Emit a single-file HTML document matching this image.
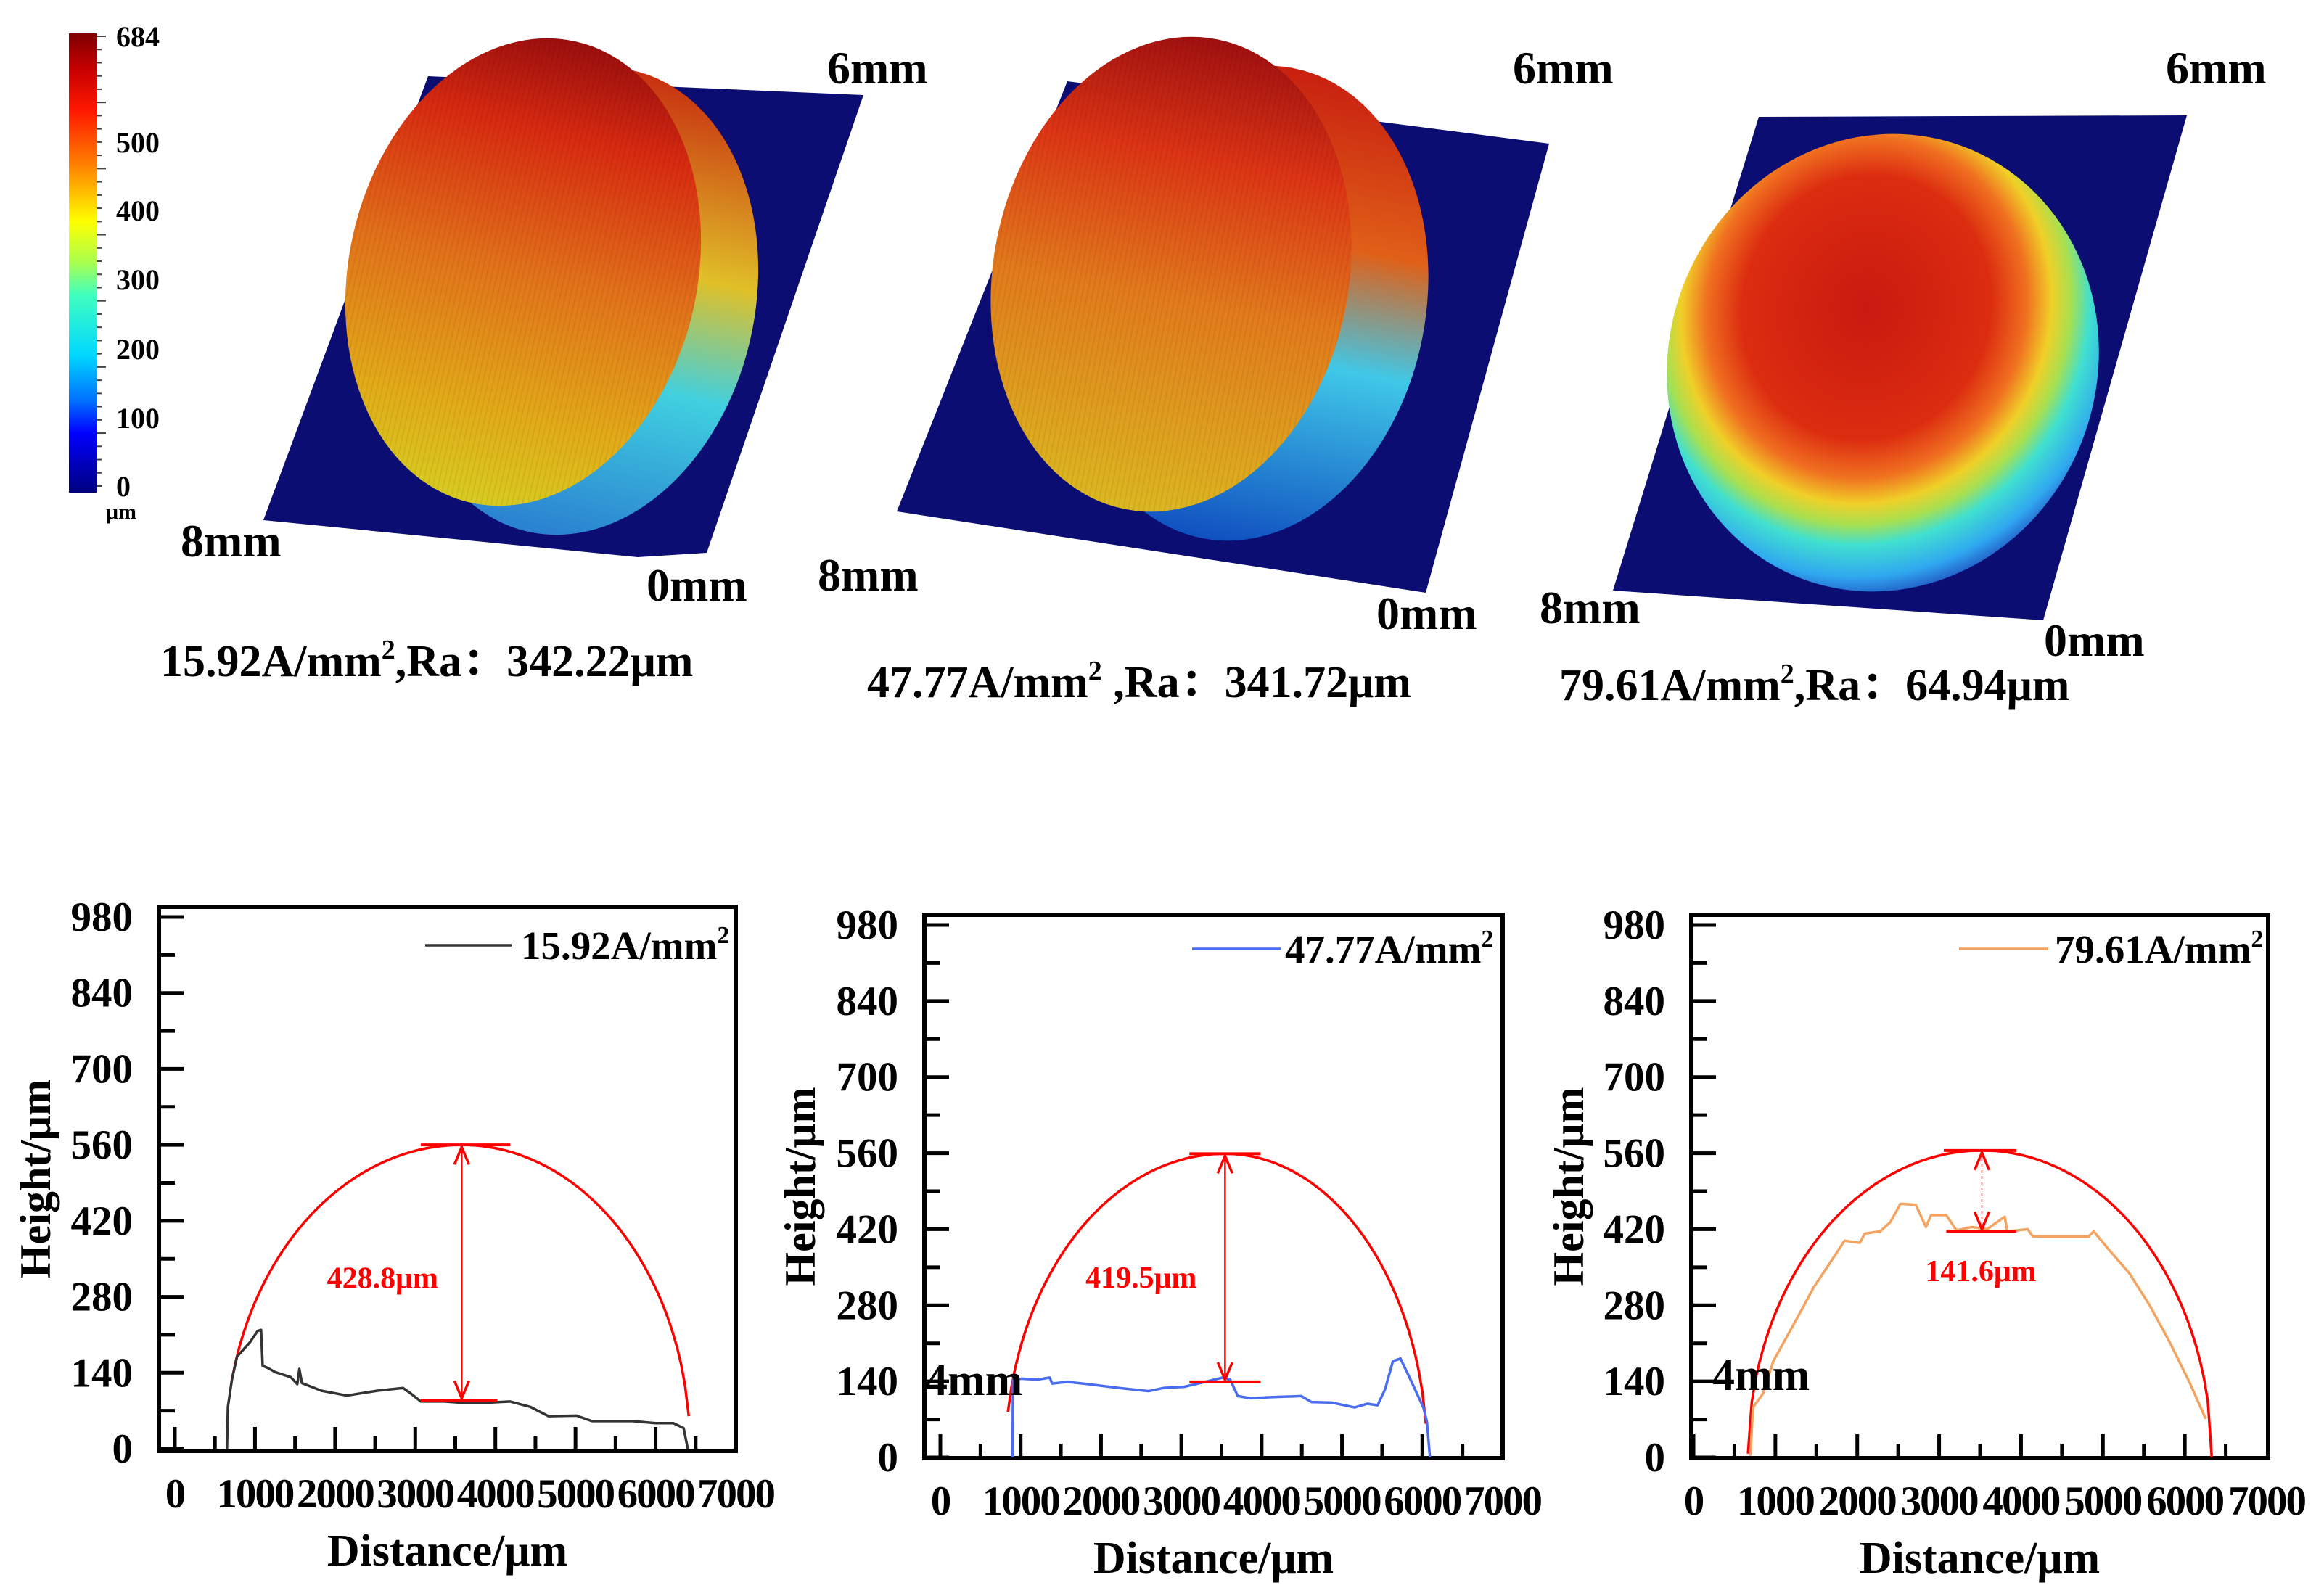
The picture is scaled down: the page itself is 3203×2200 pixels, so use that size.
<!DOCTYPE html>
<html><head><meta charset="utf-8"><style>
html,body{margin:0;padding:0;background:#fff;}
svg{display:block;}
text{font-family:"Liberation Serif","Noto Serif CJK SC",serif;font-weight:bold;}
</style></head><body>
<svg id="fig" width="3203" height="2200" viewBox="0 0 3203 2200" xmlns="http://www.w3.org/2000/svg">
<defs>
<linearGradient id="jet" x1="0" y1="0" x2="0" y2="1">
<stop offset="0" stop-color="#7f0000"/><stop offset="0.08" stop-color="#c80000"/><stop offset="0.17" stop-color="#ff1a00"/>
<stop offset="0.28" stop-color="#ff7a00"/><stop offset="0.41" stop-color="#ffff00"/><stop offset="0.50" stop-color="#a8ff50"/>
<stop offset="0.57" stop-color="#40ffc0"/><stop offset="0.70" stop-color="#00d8ff"/><stop offset="0.80" stop-color="#0070ff"/>
<stop offset="0.87" stop-color="#0000ff"/><stop offset="1" stop-color="#00007f"/></linearGradient>
<linearGradient id="face1" x1="0" y1="0" x2="0" y2="1">
<stop offset="0" stop-color="#9a0e0e"/><stop offset="0.2" stop-color="#d82a10"/><stop offset="0.5" stop-color="#e2721a"/><stop offset="0.8" stop-color="#e2aa18"/><stop offset="1" stop-color="#d8cc20"/></linearGradient>
<linearGradient id="skirt1" x1="0" y1="0" x2="0" y2="1">
<stop offset="0" stop-color="#c83010"/><stop offset="0.4" stop-color="#e0c028"/><stop offset="0.65" stop-color="#40d0e0"/><stop offset="1" stop-color="#2a80d0"/></linearGradient>
<linearGradient id="face2" x1="0" y1="0" x2="0" y2="1">
<stop offset="0" stop-color="#a01010"/><stop offset="0.25" stop-color="#dc3414"/><stop offset="0.55" stop-color="#e27a1c"/><stop offset="1" stop-color="#dcb820"/></linearGradient>
<linearGradient id="skirt2" x1="0" y1="0" x2="0" y2="1">
<stop offset="0" stop-color="#c82010"/><stop offset="0.35" stop-color="#e06018"/><stop offset="0.6" stop-color="#40c8e8"/><stop offset="1" stop-color="#1050c0"/></linearGradient>
<radialGradient id="face3" cx="0.42" cy="0.4" r="0.64">
<stop offset="0" stop-color="#c81a10"/><stop offset="0.45" stop-color="#dc2c10"/><stop offset="0.58" stop-color="#f07020"/><stop offset="0.67" stop-color="#f0d028"/><stop offset="0.74" stop-color="#a8e050"/><stop offset="0.81" stop-color="#40e0d0"/><stop offset="0.92" stop-color="#30a8f0"/><stop offset="1" stop-color="#2050c0"/></radialGradient>
<pattern id="streak" width="7" height="40" patternUnits="userSpaceOnUse"><rect width="2" height="40" fill="#000" opacity="0.06"/></pattern>
</defs>

<g>
<rect x="95" y="46" width="38" height="633" fill="url(#jet)"/>
<g id="cbticks" stroke="#444" stroke-width="2"></g>
<text x="160" y="64" font-size="40">684</text>
<text x="160" y="210" font-size="40">500</text>
<text x="160" y="304" font-size="40">400</text>
<text x="160" y="399" font-size="40">300</text>
<text x="160" y="495" font-size="40">200</text>
<text x="160" y="590" font-size="40">100</text>
<text x="160" y="684" font-size="40">0</text>
<text x="146" y="715" font-size="30">μm</text>
</g>

<g>
<polygon points="590,105 1190,131 974,762 879,768 363,717" fill="#0b0d72"/>
<ellipse cx="800" cy="415" rx="240" ry="326" transform="rotate(13 800 415)" fill="url(#skirt1)"/>
<ellipse cx="721" cy="375" rx="240" ry="326" transform="rotate(13 721 375)" fill="url(#face1)"/>
<ellipse cx="721" cy="375" rx="240" ry="326" transform="rotate(13 721 375)" fill="url(#streak)"/>
<text x="1140" y="115" font-size="64">6mm</text>
<text x="249" y="767" font-size="64">8mm</text>
<text x="891" y="828" font-size="64">0mm</text>
<text x="221" y="932" font-size="62">15.92A/mm<tspan font-size="38" dy="-24">2</tspan><tspan dy="24">,Ra：342.22μm</tspan></text>
</g>

<g>
<polygon points="1471,112 2135,198 1965,817 1236,705" fill="#0b0d72"/>
<ellipse cx="1720" cy="418" rx="245" ry="330" transform="rotate(11 1720 418)" fill="url(#skirt2)"/>
<ellipse cx="1614" cy="378" rx="245" ry="330" transform="rotate(11 1614 378)" fill="url(#face2)"/>
<ellipse cx="1614" cy="378" rx="245" ry="330" transform="rotate(11 1614 378)" fill="url(#streak)"/>
<text x="2085" y="115" font-size="64">6mm</text>
<text x="1127" y="814" font-size="64">8mm</text>
<text x="1897" y="867" font-size="64">0mm</text>
<text x="1195" y="961" font-size="62">47.77A/mm<tspan font-size="38" dy="-24">2</tspan><tspan dy="24"> ,Ra：341.72μm</tspan></text>
</g>

<g>
<polygon points="2424,161 3014,159 2816,855 2223,814" fill="#0b0d72"/>
<ellipse cx="2595" cy="500" rx="295" ry="318" transform="rotate(20 2595 500)" fill="url(#face3)"/>
<text x="2985" y="115" font-size="64">6mm</text>
<text x="2122" y="859" font-size="64">8mm</text>
<text x="2817" y="904" font-size="64">0mm</text>
<text x="2149" y="965" font-size="62">79.61A/mm<tspan font-size="38" dy="-24">2</tspan><tspan dy="24">,Ra：64.94μm</tspan></text>
</g>

<g id="charts"></g>
</svg>
<script>
// ---- data ----
const xTickValues = [0,1000,2000,3000,4000,5000,6000,7000];
const yTickValues = [0,140,280,420,560,700,840,980];
const seriesNames = ["15.92A/mm","47.77A/mm","79.61A/mm"];
const seriesColors = ["#333333","#4a6cf0","#f4a460"];
const s1X = [650,662,713,777,936,1032,1076,1096,1159,1255,1446,1529,1554,1586,1828,2146,2529,2847,2943,3070,3357,3548,3930,4185,4439,4662,5013,5204,5713,6000,6223,6350,6401];
const s1Y = [0,77,128,170,196,217,219,153,149,141,132,119,147,121,107,98,107,112,102,87,87,85,85,87,77,60,61,51,51,47,47,38,0];
const s2X = [899,905,1013,1203,1361,1392,1582,1835,2215,2595,2785,3038,3291,3513,3608,3703,3861,4114,4494,4620,4873,5158,5316,5443,5538,5633,5728,5854,6013,6057,6095];
const s2Y = [0,143,145,143,147,136,139,135,128,122,128,130,139,147,143,113,109,111,113,102,101,92,99,96,126,177,182,143,92,66,0];
const s3X = [696,727,851,975,1099,1286,1472,1658,1845,2031,2093,2280,2404,2528,2714,2839,2901,3087,3211,3398,3584,3801,3832,4081,4143,4453,4826,4888,5075,5323,5571,5820,6068,6255];
const s3Y = [3,92,118,177,211,262,314,356,399,395,412,416,433,467,465,424,446,446,418,424,420,443,416,420,407,407,407,416,382,339,280,211,135,71];
const arcStartX = [713,842,665], arcStartY = [128,84,7];
const arcPeakX = [3580,3544,3522], arcPeakY = [560,559,565];
const arcEndX = [6414,6044,6329], arcEndY = [60,62,0];
const capTopX1 = [3070,3101,3056], capTopX2 = [4185,3987,3944];
const capBotX1 = [3070,3101,3087], capBotX2 = [4025,3987,3944], capBotY = [89,139,416];
const gapLabels = ["428.8μm","419.5μm","141.6μm"];
const gapLabelX = [2592,2500,3509], gapLabelY = [315,331,343];

const NS = "http://www.w3.org/2000/svg";
const layouts = [
 {l:219,t:1250,r:1014,b:2000,x0:241,x1:1014,y0:1997,y1:1264,ytx:49,leg:[586,705,718,1303],mm:null},
 {l:1274,t:1261,r:2071,b:2010,x0:1296,x1:2071,y0:2009,y1:1275,ytx:1103,leg:[1643,1766,1771,1308],mm:[1275,1923]},
 {l:2331,t:1261,r:3126,b:2010,x0:2334,x1:3124,y0:2009,y1:1275,ytx:2162,leg:[2700,2823,2832,1308],mm:[2360,1916]}
];
const seriesX=[s1X,s2X,s3X], seriesY=[s1Y,s2Y,s3Y];
function el(tag,attrs,parent){const e=document.createElementNS(NS,tag);for(const k in attrs)e.setAttribute(k,attrs[k]);parent.appendChild(e);return e;}

const cbt=document.getElementById('cbticks');
for(let i=0;i<=34;i++){const y=50+i*(620/34);const ln=el('line',{x1:133,x2:(i%5==0?146:140),y1:y,y2:y},cbt);

}

const root=document.getElementById('charts');
layouts.forEach((L,c)=>{
 const xs=v=>L.x0+(v/7000)*(L.x1-L.x0);
 const ys=v=>L.y0-(v/980)*(L.y0-L.y1);
 const g=el('g',{},root);
 
 
 const box=el('rect',{x:L.l,y:L.t,width:L.r-L.l,height:L.b-L.t,fill:'none',stroke:'#000','stroke-width':6},g);
 
 
 for(let v=0;v<=980;v+=70){const y=ys(v);const major=(v%140==0);
  const t=el('line',{x1:L.l,x2:L.l+(major?34:22),y1:y,y2:y,stroke:'#000','stroke-width':5},g);
  
  }
 yTickValues.forEach(v=>{const t=el('text',{x:L.l-36,y:ys(v)+19,'font-size':57,'text-anchor':'end'},g);t.textContent=v;
  
  });
 for(let v=0;v<=6500;v+=500){const x=xs(v);const major=(v%1000==0);
  const t=el('line',{x1:x,x2:x,y1:L.b,y2:L.b-(major?33:20),stroke:'#000','stroke-width':5},g);
  
  }
 xTickValues.forEach(v=>{const t=el('text',{x:xs(v),y:L.b+78,'font-size':57,'text-anchor':'middle','letter-spacing':'-2'},g);t.textContent=v;
  
  });
 const yt=el('text',{x:0,y:0,'font-size':60,'text-anchor':'middle',transform:`translate(${L.ytx+20},${(L.t+L.b)/2}) rotate(-90)`},g);yt.textContent='Height/μm';
 
 
 const xt=el('text',{x:(L.l+L.r)/2,y:L.b+158,'font-size':62,'text-anchor':'middle'},g);xt.textContent='Distance/μm';
 
 
 const px=arcPeakX[c],py=arcPeakY[c];
 const rxl=(px-arcStartX[c])/Math.sqrt(1-Math.pow(arcStartY[c]/py,2));
 const rxr=(arcEndX[c]-px)/Math.sqrt(1-Math.pow(arcEndY[c]/py,2));
 let d='';const N=120;
 for(let i=0;i<=N;i++){const x=arcStartX[c]+(arcEndX[c]-arcStartX[c])*i/N;const rx=x<px?rxl:rxr;const u=(x-px)/rx;
  const y=py*Math.sqrt(Math.max(0,1-u*u));d+=(i?'L':'M')+xs(x).toFixed(1)+','+ys(y).toFixed(1);}
 const arc=el('path',{d:d,fill:'none',stroke:'#ff0000','stroke-width':3.5},g);
 
 
 let sd='';seriesX[c].forEach((x,i)=>{sd+=(i?'L':'M')+xs(x).toFixed(1)+','+ys(seriesY[c][i]).toFixed(1);});
 const sp=el('path',{d:sd,fill:'none',stroke:seriesColors[c],'stroke-width':3.5,'stroke-linejoin':'round'},g);
 
 
 const m=el('g',{stroke:'#ff0000','stroke-width':3.5,fill:'none'},g);
 
 
 el('line',{x1:xs(capTopX1[c]),x2:xs(capTopX2[c]),y1:ys(py),y2:ys(py),'stroke-width':4},m);
 el('line',{x1:xs(capBotX1[c]),x2:xs(capBotX2[c]),y1:ys(capBotY[c]),y2:ys(capBotY[c]),'stroke-width':4},m);
 const ax=xs(px),ya=ys(py)+3,yb=ys(capBotY[c])-3;
 el('line',{x1:ax,x2:ax,y1:ya,y2:yb,'stroke-width':c==2?1.5:2.5,'stroke-dasharray':c==2?'4,4':'none'},m);
 el('path',{d:`M${ax-10},${ya+24}L${ax},${ya}L${ax+10},${ya+24}M${ax-10},${yb-24}L${ax},${yb}L${ax+10},${yb-24}`},m);
 const gl=el('text',{x:xs(gapLabelX[c]),y:ys(gapLabelY[c])+14,'font-size':42,'text-anchor':'middle',fill:'#ff0000'},g);gl.textContent=gapLabels[c];
 
 
 const lg=el('g',{},g);
 
 
 el('line',{x1:L.leg[0],x2:L.leg[1],y1:L.leg[3],y2:L.leg[3],stroke:seriesColors[c],'stroke-width':3.5},lg);
 const lt=el('text',{x:L.leg[2],y:L.leg[3]+19,'font-size':55},lg);lt.textContent=seriesNames[c];
 const sup=el('tspan',{'font-size':34,dy:-22},lt);sup.textContent='2';
 if(L.mm){const t=el('text',{x:L.mm[0],y:L.mm[1],'font-size':62},g);t.textContent='4mm';
  
  }
});
</script>
</body></html>
